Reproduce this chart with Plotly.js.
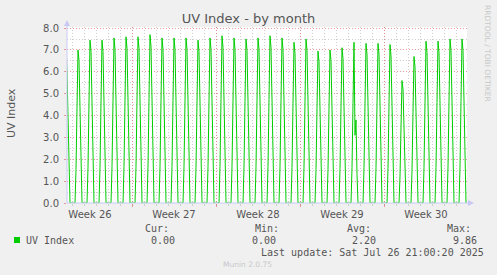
<!DOCTYPE html>
<html>
<head>
<meta charset="utf-8">
<script src="https://cdn.plot.ly/plotly-3.0.1.min.js"></script>
<style>
  html, body { margin: 0; padding: 0; background: #f0f0f0; }
  #chart { width: 497px; height: 275px; }
</style>
</head>
<body>
<div id="chart"></div>
<script>
// ---- data (2-hour consolidated samples) ----
const dayDates = [
  '2025-06-23','2025-06-24','2025-06-25','2025-06-26','2025-06-27','2025-06-28','2025-06-29',
  '2025-06-30','2025-07-01','2025-07-02','2025-07-03','2025-07-04','2025-07-05','2025-07-06',
  '2025-07-07','2025-07-08','2025-07-09','2025-07-10','2025-07-11','2025-07-12','2025-07-13',
  '2025-07-14','2025-07-15','2025-07-16','2025-07-17','2025-07-18','2025-07-19','2025-07-20',
  '2025-07-21','2025-07-22','2025-07-23','2025-07-24','2025-07-25','2025-07-26'
];
const sampleHours = [6, 8, 10, 12, 14, 16, 18, 20];
const uvSamples = [
  [0, 1.60, 4.50, 7.25, 6.00, 3.40, 1.05, 0],
  [0, 1.54, 4.34, 7.00, 6.51, 3.85, 1.26, 0],
  [0, 1.64, 4.62, 7.45, 6.93, 4.10, 1.34, 0],
  [0, 1.64, 4.62, 7.45, 6.93, 4.10, 1.34, 0],
  [0, 1.66, 4.68, 7.55, 7.02, 4.15, 1.36, 0],
  [0, 1.67, 4.71, 7.60, 7.07, 4.18, 1.37, 0],
  [0, 1.67, 4.71, 7.60, 7.07, 4.18, 1.37, 0],
  [0, 1.69, 4.77, 7.70, 7.16, 4.24, 1.39, 0],
  [0, 1.66, 4.68, 7.55, 7.02, 4.15, 1.36, 0],
  [0, 1.66, 4.68, 7.55, 7.02, 4.15, 1.36, 0],
  [0, 1.66, 4.68, 7.55, 7.02, 4.15, 1.36, 0],
  [0, 1.64, 4.62, 7.45, 6.93, 4.10, 1.34, 0],
  [0, 1.66, 4.68, 7.55, 7.02, 4.15, 1.36, 0],
  [0, 1.68, 4.74, 7.65, 7.11, 4.21, 1.38, 0],
  [0, 1.66, 4.68, 7.55, 7.02, 4.15, 1.36, 0],
  [0, 1.65, 4.65, 7.50, 6.98, 4.13, 1.35, 0],
  [0, 1.66, 4.68, 7.55, 7.02, 4.15, 1.36, 0],
  [0, 1.68, 4.74, 7.65, 7.11, 4.21, 1.38, 0],
  [0, 1.66, 4.68, 7.55, 7.02, 4.15, 1.36, 0],
  [0, 1.62, 4.56, 7.35, 6.84, 4.04, 1.32, 0],
  [0, 1.65, 4.65, 7.50, 6.98, 4.13, 1.35, 0],
  [0, 1.53, 4.31, 6.95, 6.46, 3.82, 1.25, 0],
  [0, 1.54, 4.34, 7.00, 6.51, 3.85, 1.26, 0],
  [0, 1.56, 4.40, 7.10, 6.60, 3.91, 1.28, 0],
  [0, 1.62, 4.56, 7.35, 3.10, 3.80, 1.30, 0],
  [0, 1.61, 4.53, 7.30, 6.79, 4.02, 1.31, 0],
  [0, 1.61, 4.53, 7.30, 6.79, 4.02, 1.31, 0],
  [0, 1.60, 4.50, 7.25, 6.74, 3.99, 1.31, 0],
  [0, 1.23, 3.47, 5.60, 5.21, 3.08, 1.01, 0],
  [0, 1.47, 4.15, 6.70, 6.23, 3.69, 1.21, 0],
  [0, 1.63, 4.59, 7.40, 6.88, 4.07, 1.33, 0],
  [0, 1.63, 4.59, 7.40, 6.88, 4.07, 1.33, 0],
  [0, 1.65, 4.65, 7.50, 6.98, 4.13, 1.35, 0],
  [0, 1.65, 4.65, 7.50, 6.98, 4.13, 1.35, 0]
];
const weekStarts = ['2025-06-22','2025-06-29','2025-07-06','2025-07-13','2025-07-20','2025-07-27'];
const weekLabelTimes = ['2025-06-25 12:00','2025-07-02 12:00','2025-07-09 12:00','2025-07-16 12:00','2025-07-23 12:00'];
const weekLabels = ['Week 26','Week 27','Week 28','Week 29','Week 30'];
const seriesName = 'UV Index';
const statLabels = ['Cur:', 'Min:', 'Avg:', 'Max:'];
const statValues = ['0.00', '0.00', '2.20', '9.86'];
const lastUpdate = 'Last update: Sat Jul 26 21:00:20 2025';
const xStart = '2025-06-23 14:00', xEnd = '2025-07-26 22:00';

// ---- build series ----
const xs = [], ys = [];
dayDates.forEach((d, i) => {
  sampleHours.forEach((h, j) => {
    xs.push(d + ' ' + String(h).padStart(2, '0') + ':00');
    ys.push(uvSamples[i][j]);
  });
});

// ---- geometry helpers (pixels -> paper) ----
const PL = 67, PR = 467, PT = 27, PB = 203;
const px = v => (v - PL) / (PR - PL);
const py = v => (PB - v) / (PB - PT);

const MONO = 'DejaVu Sans Mono';
const SANS = 'DejaVu Sans';
const TXT = '#555555';
const RED = 'rgba(225,120,120,0.75)';
const GRY = '#cfcfcf';
const AX = '#c8c8f4';

const ann = (text, x, y, opts = {}) => Object.assign({
  text, xref: 'paper', yref: 'paper', x: px(x), y: py(y),
  xanchor: 'left', yanchor: 'middle', showarrow: false,
  borderpad: 0, borderwidth: 0,
  font: { family: MONO, size: 10, color: TXT }
}, opts);

const statX = [145, 255, 347, 447];
const valX = [151, 252, 352, 453];
const annotations = [];
statLabels.forEach((t, i) => annotations.push(ann(t, statX[i], 228)));
statValues.forEach((t, i) => annotations.push(ann(t, valX[i], 240)));
annotations.push(ann(seriesName, 26, 240));
annotations.push(ann(lastUpdate, 261, 252));
annotations.push(ann('Munin 2.0.75', 223, 264, { font: { family: SANS, size: 7.5, color: '#c8c8c8' } }));
annotations.push(ann('RRDTOOL / TOBI OETIKER', 488, 53, {
  xanchor: 'center', textangle: 90, font: { family: SANS, size: 7.5, color: '#c8c8c8' } }));
annotations.push(ann(seriesName, 11, 113, {
  xanchor: 'center', textangle: -90, font: { family: SANS, size: 11, color: TXT } }));

const shapes = [
  { type: 'line', xref: 'paper', yref: 'paper', x0: px(67), x1: px(470), y0: 0, y1: 0, line: { color: AX, width: 1 } },
  { type: 'line', xref: 'paper', yref: 'paper', x0: 0, x1: 0, y0: 0, y1: py(22), line: { color: AX, width: 1 } },
  { type: 'path', xref: 'paper', yref: 'paper',
    path: `M ${px(468)} ${py(200)} L ${px(474)} ${py(203)} L ${px(468)} ${py(206)} Z`,
    fillcolor: AX, line: { color: AX, width: 0 } },
  { type: 'path', xref: 'paper', yref: 'paper',
    path: `M ${px(64)} ${py(26)} L ${px(67)} ${py(20)} L ${px(70)} ${py(26)} Z`,
    fillcolor: AX, line: { color: AX, width: 0 } },
  { type: 'rect', xref: 'paper', yref: 'paper', x0: px(14), x1: px(20), y0: py(243), y1: py(237),
    fillcolor: '#00cc00', line: { width: 0 } }
];

const traces = [
  { x: xs, y: ys, type: 'scatter', mode: 'lines', line: { color: '#00cc00', width: 1 },
    hoverinfo: 'skip', showlegend: false },
  { x: [], y: [], xaxis: 'x2', type: 'scatter', mode: 'lines', showlegend: false, hoverinfo: 'skip' }
];

const layout = {
  width: 497, height: 275,
  margin: { l: PL, r: 497 - PR, t: PT, b: 275 - PB, pad: 0 },
  paper_bgcolor: '#f0f0f0', plot_bgcolor: '#ffffff',
  font: { family: SANS, size: 10, color: TXT },
  showlegend: false,
  title: { text: 'UV Index - by month', x: 0.5, xref: 'container', xanchor: 'center',
    y: 1 - 18 / 275, yref: 'container', yanchor: 'middle',
    font: { family: SANS, size: 13, color: TXT } },
  xaxis: {
    type: 'date', range: [xStart, xEnd], tickmode: 'array', tickvals: weekStarts,
    showticklabels: false, showgrid: true, gridcolor: RED, griddash: '1px,2px', gridwidth: 1,
    ticks: 'outside', ticklen: 3, tickcolor: RED, tickwidth: 1,
    zeroline: false, showline: false, fixedrange: true,
    minor: { dtick: 86400000, tick0: '2025-06-22', showgrid: true, gridcolor: GRY,
      griddash: '1px,2px', gridwidth: 1, ticks: 'outside', ticklen: 2, tickcolor: GRY }
  },
  xaxis2: {
    type: 'date', overlaying: 'x', anchor: 'y', side: 'bottom', range: [xStart, xEnd],
    tickmode: 'array', tickvals: weekLabelTimes, ticktext: weekLabels,
    showgrid: false, zeroline: false, showline: false, ticks: '', ticklabelstandoff: 4,
    tickfont: { family: SANS, size: 10, color: TXT }, fixedrange: true
  },
  yaxis: {
    range: [0, 8.05], tickmode: 'linear', tick0: 0, dtick: 1, tickformat: '.1f',
    showgrid: true, gridcolor: RED, griddash: '1px,2px', gridwidth: 1,
    ticks: 'outside', ticklen: 2, tickcolor: RED, ticklabelstandoff: 3,
    zeroline: false, showline: false, fixedrange: true,
    tickfont: { family: SANS, size: 10, color: TXT },
    minor: { dtick: 0.5, showgrid: true, gridcolor: GRY, griddash: '1px,2px', gridwidth: 1 }
  },
  annotations, shapes
};

Plotly.newPlot('chart', traces, layout, { staticPlot: true, displayModeBar: false });
</script>
</body>
</html>
